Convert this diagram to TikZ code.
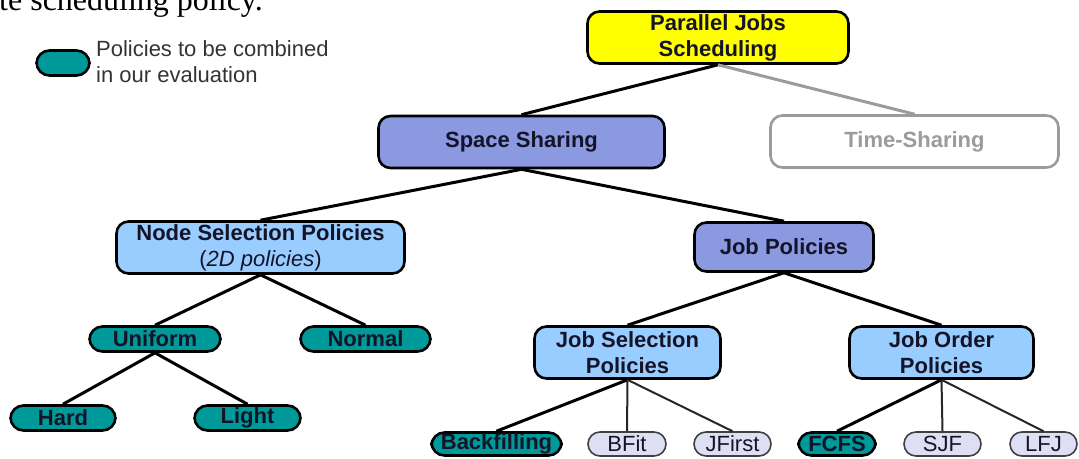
\documentclass[tikz,border=0pt]{standalone}
\usepackage{fontspec}
\setmainfont{Liberation Serif}
\setsansfont{Liberation Sans}
\usepackage{tikz}
\tikzstyle{chart} = [x = 1pt, y = -1pt, every node/.style={inner sep = 0pt, align = center}]
\definecolor{rootColor}{RGB}{255,255,0}
\definecolor{sharingColor}{RGB}{139,153,225}
\definecolor{policyColor}{RGB}{153,204,255}
\definecolor{chosenColor}{RGB}{0,153,153}
\definecolor{otherColor}{RGB}{221,224,245}
\definecolor{fadedColor}{RGB}{155,155,155}
\definecolor{labelColor}{RGB}{20,20,40}
\newcommand{\boxFont}{\sffamily\bfseries\fontsize{22}{26}\selectfont}
\newcommand{\leafFont}{\sffamily\fontsize{22}{26}\selectfont}
\tikzstyle{boxStyle} = [draw=black, line width=2.6pt, rounded corners=12pt, minimum height=52pt, text=labelColor, font=\boxFont]
\tikzstyle{pillStyle} = [draw=black, line width=2.6pt, rounded corners=13pt, minimum height=25pt, fill=chosenColor, text=labelColor, font=\boxFont]
\tikzstyle{leafStyle} = [draw=black!75, line width=1.6pt, rounded corners=12pt, minimum height=24pt, fill=otherColor, text=labelColor, font=\leafFont]
\tikzstyle{thickEdge} = [line width=3pt]
\tikzstyle{thinEdge} = [line width=2pt, color=black!85]
\tikzstyle{fadedEdge} = [line width=3pt, color=fadedColor]
\newcommand{\treeEdge}[3]{\draw [#1] (#2.south) -- (#3.north);}

\begin{document}
\begin{tikzpicture}[chart]
  \clip (0,0) rectangle (1079,458);
  \node [anchor=base west, font=\fontsize{32}{36}\selectfont] (caption) at (-1,10) {te scheduling policy.};

  % legend
  \node [pillStyle, minimum width=53pt] (legendPill) at (63,63) {};
  \node [anchor=west, align=left, font=\leafFont, text=black!80] (legendText) at (96,62) {Policies to be combined\\in our evaluation};

  % tree
  \node [boxStyle, fill=rootColor, minimum width=261pt] (parallelJobs) at (718,37.5) {Parallel Jobs\\Scheduling};
  \node [boxStyle, fill=sharingColor, minimum width=286pt] (spaceSharing) at (521.5,142) {Space Sharing};
  \node [boxStyle, draw=fadedColor, fill=white, text=fadedColor, minimum width=288pt] (timeSharing) at (914.5,141.5) {Time-Sharing};
  \node [boxStyle, fill=policyColor, minimum width=288pt] (nodeSelection) at (260.5,247.5) {Node Selection Policies\\{\mdseries(\textit{2D policies})}};
  \node [boxStyle, fill=sharingColor, minimum width=179pt, minimum height=49pt] (jobPolicies) at (784,247) {Job Policies};
  \node [pillStyle, minimum width=131pt] (uniform) at (155,339) {Uniform};
  \node [pillStyle, minimum width=130pt] (normal) at (365.5,339) {Normal};
  \node [pillStyle, minimum width=105pt] (hard) at (63,418) {Hard};
  \node [pillStyle, minimum width=106pt] (light) at (247.5,418) {Light};
  \node [boxStyle, fill=policyColor, minimum width=186pt] (jobSelection) at (627.5,352.5) {Job Selection\\Policies};
  \node [boxStyle, fill=policyColor, minimum width=184pt] (jobOrder) at (941.5,352.5) {Job Order\\Policies};
  \node [pillStyle, minimum width=130pt, minimum height=23pt] (backfilling) at (496.5,444) {Backfilling};
  \node [leafStyle, minimum width=78pt] (bFit) at (627,444) {BFit};
  \node [leafStyle, minimum width=77pt] (jFirst) at (732.5,444) {JFirst};
  \node [pillStyle, minimum width=77pt, minimum height=23pt] (fcfs) at (837,444) {FCFS};
  \node [leafStyle, minimum width=77pt] (sjf) at (942.5,444) {SJF};
  \node [leafStyle, minimum width=67pt] (lfj) at (1043.5,444) {LFJ};

  \treeEdge{thickEdge}{parallelJobs}{spaceSharing}
  \treeEdge{fadedEdge}{parallelJobs}{timeSharing}
  \treeEdge{thickEdge}{spaceSharing}{nodeSelection}
  \treeEdge{thickEdge}{spaceSharing}{jobPolicies}
  \treeEdge{thickEdge}{nodeSelection}{uniform}
  \treeEdge{thickEdge}{nodeSelection}{normal}
  \treeEdge{thickEdge}{uniform}{hard}
  \treeEdge{thickEdge}{uniform}{light}
  \treeEdge{thickEdge}{jobPolicies}{jobSelection}
  \treeEdge{thickEdge}{jobPolicies}{jobOrder}
  \treeEdge{thickEdge}{jobSelection}{backfilling}
  \treeEdge{thinEdge}{jobSelection}{bFit}
  \treeEdge{thinEdge}{jobSelection}{jFirst}
  \treeEdge{thickEdge}{jobOrder}{fcfs}
  \treeEdge{thinEdge}{jobOrder}{sjf}
  \treeEdge{thinEdge}{jobOrder}{lfj}
\end{tikzpicture}
\end{document}
